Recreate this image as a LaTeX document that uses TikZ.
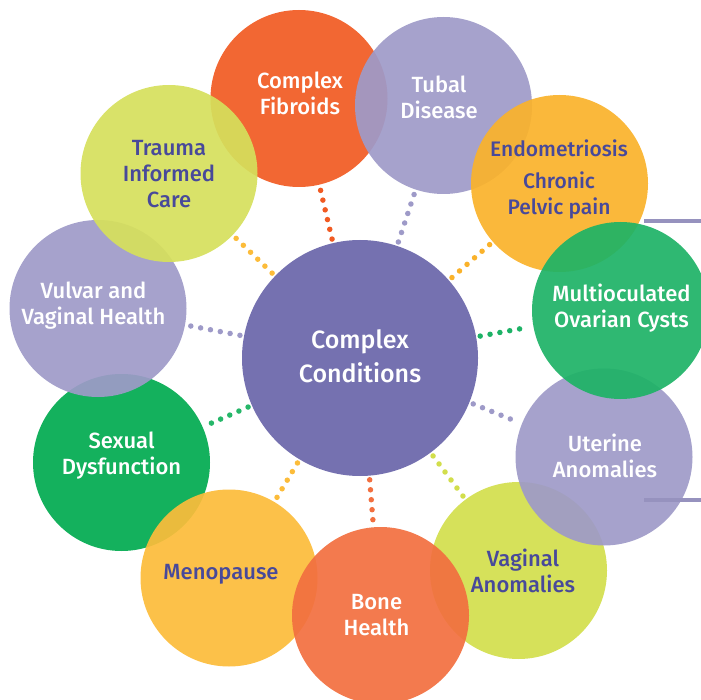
\documentclass[tikz,border=0pt]{standalone}
\usepackage{fontspec}
\setmainfont{Fira Sans}[UprightFont={* Medium}]
\usepackage{xcolor}
\usepackage{tikz}
\definecolor{hubc}{HTML}{7571B0}
\definecolor{lav}{HTML}{9E9AC8}
\definecolor{fibc}{HTML}{F15A22}
\definecolor{endc}{HTML}{FAB22A}
\definecolor{mulc}{HTML}{1DB266}
\definecolor{vagc}{HTML}{D2DE4C}
\definecolor{bonc}{HTML}{F26F3F}
\definecolor{menc}{HTML}{FCBC3A}
\definecolor{sexc}{HTML}{00AA4F}
\definecolor{trac}{HTML}{D6E05C}
\definecolor{ink}{HTML}{48499A}
\tikzset{bub/.style={circle,minimum size=177pt,inner sep=0pt,fill opacity=0.92},
  hub/.style={circle,fill=hubc,minimum size=236pt,inner sep=0pt},
  wtxt/.style={text=white,align=center,font=\fontsize{22}{26}\selectfont},
  dtxt/.style={text=ink,align=center,font=\fontsize{22}{26}\selectfont},
  dots/.style={line width=5.5pt,line cap=round,dash pattern=on 0pt off 10pt,shorten <=4pt,shorten >=4pt},
  bar/.style={line width=4pt,lav!95!black}}

\begin{document}
\begin{tikzpicture}[x=1pt,y=-1pt]
    \useasboundingbox (0,0) rectangle (701,700);

    \node[hub] (cc) at (360,358) {};
    \node[text=white,align=center,font=\fontsize{25}{34}\selectfont] (cct) at (360,356) {Complex\\Conditions};

    \node[bub,fill=sexc] (sex) at (121.5,462.5) {};
    \node[wtxt] (sext) at (121.5,456) {Sexual\\Dysfunction};
    \node[bub,fill=lav] (vul) at (98,308.5) {};
    \node[wtxt] (vult) at (93.5,305.5) {Vulvar and\\Vaginal Health};
    \node[bub,fill=fibc] (fib) at (299,98.5) {};
    \node[wtxt] (fibt) at (300,93) {Complex\\Fibroids};
    \node[bub,fill=trac] (tra) at (169,173.5) {};
    \node[dtxt] (trat) at (169,174) {Trauma\\Informed\\Care};
    \node[bub,fill=lav] (tub) at (443.5,105.5) {};
    \node[wtxt] (tubt) at (439,97.5) {Tubal\\Disease};
    \node[bub,fill=endc] (end) at (559.5,183.5) {};
    \node[dtxt,font=\fontsize{21}{26}\selectfont] (endt) at (559,179) {Endometriosis\\[6pt]Chronic\\Pelvic pain};
    \node[bub,fill=vagc] (vag) at (518.5,570.5) {};
    \node[dtxt] (vagt) at (523,571) {Vaginal\\Anomalies};
    \node[bub,fill=lav] (ute) at (604,457) {};
    \node[wtxt] (utet) at (605,456) {Uterine\\Anomalies};
    \node[bub,fill=mulc] (mul) at (620.5,310.5) {};
    \node[wtxt] (mult) at (621.5,308.5) {Multioculated\\Ovarian Cysts};
    \node[bub,fill=menc] (men) at (229,578) {};
    \node[dtxt] (ment) at (221,574) {Menopause};
    \node[bub,fill=bonc] (bon) at (380.5,615.5) {};
    \node[wtxt] (bont) at (376.5,615) {Bone\\Health};

    \draw[dots,fibc] (cc) -- (fib);
    \draw[dots,lav] (cc) -- (tub);
    \draw[dots,endc] (cc) -- (end);
    \draw[dots,mulc] (cc) -- (mul);
    \draw[dots,lav] (cc) -- (ute);
    \draw[dots,vagc] (cc) -- (vag);
    \draw[dots,bonc] (cc) -- (bon);
    \draw[dots,menc] (cc) -- (men);
    \draw[dots,sexc!85!white] (cc) -- (sex);
    \draw[dots,lav] (cc) -- (vul);
    \draw[dots,menc] (cc) -- (tra);

    \coordinate (r1) at (644,221);
    \coordinate (r1e) at (701,221);
    \coordinate (r2) at (644,500);
    \coordinate (r2e) at (701,500);
    \draw[bar] (r1) -- (r1e);
    \draw[bar] (r2) -- (r2e);
\end{tikzpicture}
\end{document}
